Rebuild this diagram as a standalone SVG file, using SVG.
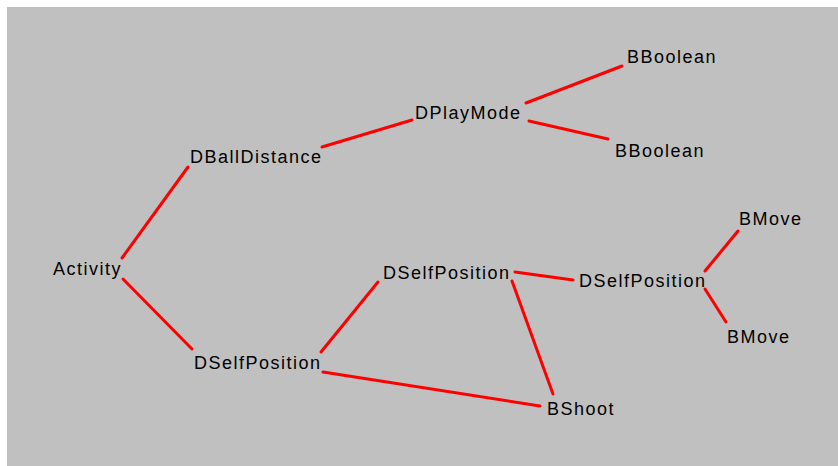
<svg xmlns="http://www.w3.org/2000/svg" width="838" height="466" viewBox="0 0 838 466">
  <style>
    .edge { stroke: #ff0000; stroke-width: 3; stroke-linecap: round; fill: none; }
    .label { font-family: "Liberation Sans", Arial, sans-serif; font-size: 18px; letter-spacing: 1.5px; fill: #000; }
  </style>
  <rect x="0" y="0" width="838" height="466" fill="#ffffff"/>
  <rect x="7" y="7" width="831" height="459" fill="#c0c0c0"/>

  <g id="connectors">
    <line class="edge" x1="122" y1="258" x2="188" y2="167"/>
    <line class="edge" x1="123" y1="279" x2="192" y2="349"/>
    <line class="edge" x1="322" y1="147" x2="412" y2="120"/>
    <line class="edge" x1="526" y1="103" x2="622" y2="66"/>
    <line class="edge" x1="529" y1="121" x2="608" y2="139"/>
    <line class="edge" x1="321" y1="352" x2="378" y2="282"/>
    <line class="edge" x1="323" y1="372" x2="540" y2="406"/>
    <line class="edge" x1="515" y1="272" x2="573" y2="280"/>
    <line class="edge" x1="512" y1="281" x2="553" y2="394"/>
    <line class="edge" x1="705" y1="271" x2="738" y2="231"/>
    <line class="edge" x1="705" y1="289" x2="726" y2="322"/>
  </g>

  <g id="activity"><text class="label" x="53" y="275">Activity</text></g>
  <g id="dballdistance"><text class="label" x="190" y="163">DBallDistance</text></g>
  <g id="dplaymode"><text class="label" x="415" y="119">DPlayMode</text></g>
  <g id="bboolean-1"><text class="label" x="627" y="63">BBoolean</text></g>
  <g id="bboolean-2"><text class="label" x="615" y="157">BBoolean</text></g>
  <g id="dselfposition-1"><text class="label" x="194" y="369">DSelfPosition</text></g>
  <g id="dselfposition-2"><text class="label" x="383" y="279">DSelfPosition</text></g>
  <g id="dselfposition-3"><text class="label" x="579" y="287">DSelfPosition</text></g>
  <g id="bshoot"><text class="label" x="547" y="415">BShoot</text></g>
  <g id="bmove-1"><text class="label" x="739" y="225">BMove</text></g>
  <g id="bmove-2"><text class="label" x="727" y="343">BMove</text></g>
</svg>
